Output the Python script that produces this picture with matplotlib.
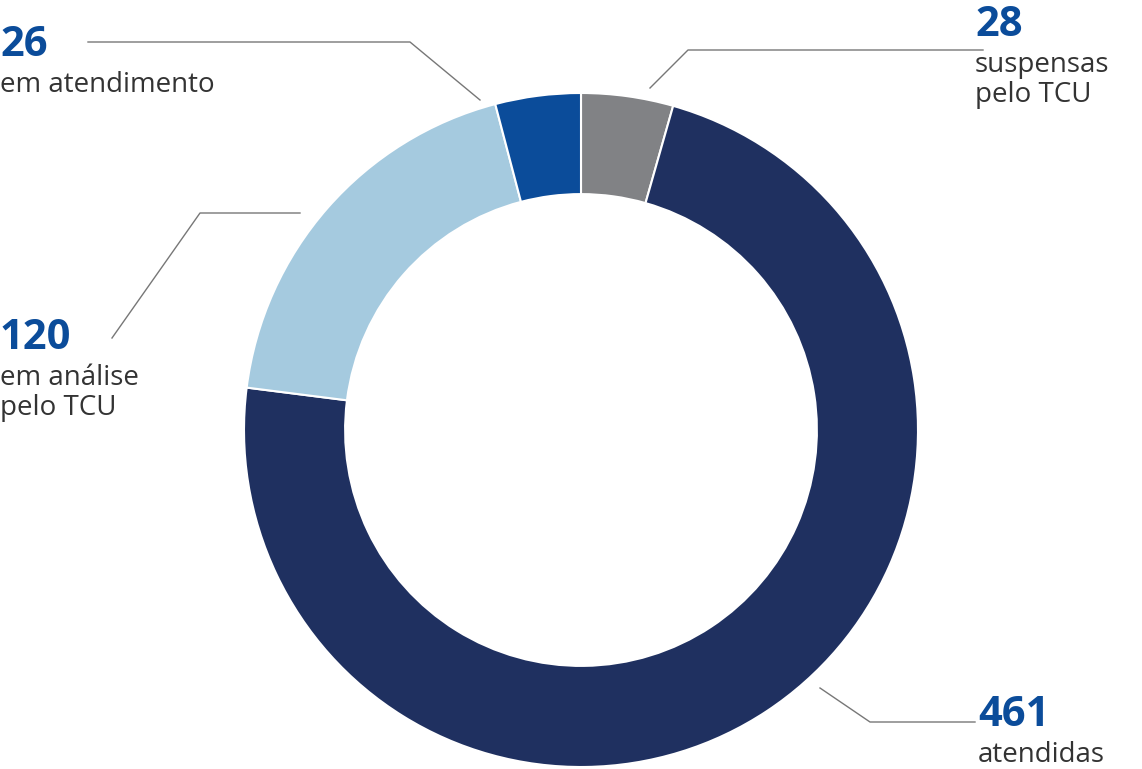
import matplotlib.pyplot as plt
from matplotlib.lines import Line2D

values = [28, 461, 120, 26]
numbers = ["28", "461", "120", "26"]
labels = ["suspensas\npelo TCU", "atendidas", "em análise\npelo TCU", "em atendimento"]
colors = ["#818285", "#1f3060", "#a5cadf", "#0b4c9a"]

W, H = 1142, 769
fig = plt.figure(figsize=(W / 100, H / 100), dpi=100)
ax = fig.add_axes([244 / W, 2 / H, 674 / W, 674 / H])
ax.pie(values, colors=colors, startangle=90, counterclock=False, radius=1,
       wedgeprops=dict(width=0.3, edgecolor="white", linewidth=1.5))
ax.set_xlim(-1, 1)
ax.set_ylim(-1, 1)
ax.set_aspect("equal")
ax.axis("off")

def fx(x): return x / W
def fy(y): return 1 - y / H

# label positions (pixels, top-left of number)
label_pos = [(975, 5), (978, 695), (0, 318), (0, 25)]
for (x, y), n, lab in zip(label_pos, numbers, labels):
    fig.text(fx(x), fy(y), n, fontsize=30, fontweight="bold", color="#0b4c9a",
             family="Open Sans", va="top", ha="left")
    fig.text(fx(x), fy(y + 46), lab, fontsize=20, color="#333333",
             family="Open Sans", va="top", ha="left", linespacing=1.1)

leaders = [
    [(983, 50), (688, 50), (650, 88)],
    [(975, 722), (870, 722), (820, 688)],
    [(300, 213), (200, 213), (112, 338)],
    [(88, 42), (410, 42), (480, 100)],
]
for pts in leaders:
    fig.add_artist(Line2D([fx(p[0]) for p in pts], [fy(p[1]) for p in pts],
                          color="#777777", linewidth=1))

fig.savefig("out.png", dpi=100)
